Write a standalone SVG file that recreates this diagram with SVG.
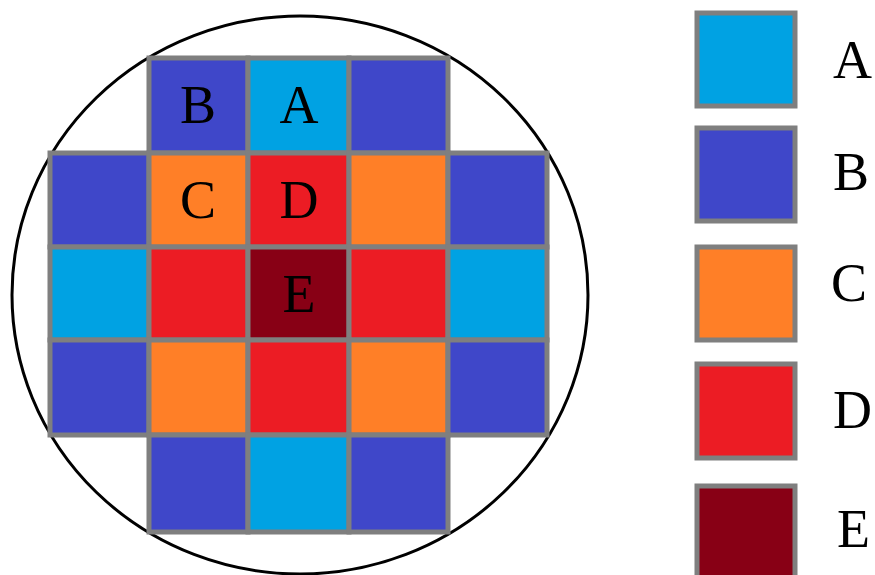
<svg xmlns="http://www.w3.org/2000/svg" width="875" height="575" viewBox="0 0 875 575">
<style>
.c{stroke:#7f7f7f;stroke-width:5}
.A{fill:#00a2e3}.B{fill:#3f47c9}.C{fill:#ff7f27}.D{fill:#ec1c24}.E{fill:#880015}
text{font-family:"Liberation Serif","Times New Roman",serif;font-size:54px;fill:#000}
.m{text-anchor:middle}
</style>
<rect width="875" height="575" fill="#fff"/>
<ellipse id="wafer" cx="300" cy="295" rx="288" ry="279" fill="none" stroke="#000" stroke-width="3"/>
<g id="grid">
<rect class="c B" x="149" y="58" width="99" height="95"/>
<rect class="c A" x="248" y="58" width="101" height="95"/>
<rect class="c B" x="349" y="58" width="99" height="95"/>
<rect class="c B" x="50" y="153" width="99" height="94"/>
<rect class="c C" x="149" y="153" width="99" height="94"/>
<rect class="c D" x="248" y="153" width="101" height="94"/>
<rect class="c C" x="349" y="153" width="99" height="94"/>
<rect class="c B" x="448" y="153" width="99" height="94"/>
<rect class="c A" x="50" y="247" width="99" height="93"/>
<rect class="c D" x="149" y="247" width="99" height="93"/>
<rect class="c E" x="248" y="247" width="101" height="93"/>
<rect class="c D" x="349" y="247" width="99" height="93"/>
<rect class="c A" x="448" y="247" width="99" height="93"/>
<rect class="c B" x="50" y="340" width="99" height="95"/>
<rect class="c C" x="149" y="340" width="99" height="95"/>
<rect class="c D" x="248" y="340" width="101" height="95"/>
<rect class="c C" x="349" y="340" width="99" height="95"/>
<rect class="c B" x="448" y="340" width="99" height="95"/>
<rect class="c B" x="149" y="435" width="99" height="97"/>
<rect class="c A" x="248" y="435" width="101" height="97"/>
<rect class="c B" x="349" y="435" width="99" height="97"/>
</g>
<g id="grid-labels">
<text class="m" x="198" y="123">B</text>
<text class="m" x="299" y="123">A</text>
<text class="m" x="198" y="218">C</text>
<text class="m" x="299" y="218">D</text>
<text class="m" x="299" y="312">E</text>
</g>
<g id="legend-A"><rect class="c A" x="697" y="13" width="98" height="93"/><text x="833" y="78">A</text></g>
<g id="legend-B"><rect class="c B" x="697" y="128" width="98" height="93"/><text x="833" y="190">B</text></g>
<g id="legend-C"><rect class="c C" x="697" y="247" width="98" height="93"/><text x="831" y="301">C</text></g>
<g id="legend-D"><rect class="c D" x="697" y="364" width="98" height="94"/><text x="833" y="428">D</text></g>
<g id="legend-E"><rect class="c E" x="697" y="486" width="98" height="100"/><text x="837" y="547">E</text></g>
</svg>
